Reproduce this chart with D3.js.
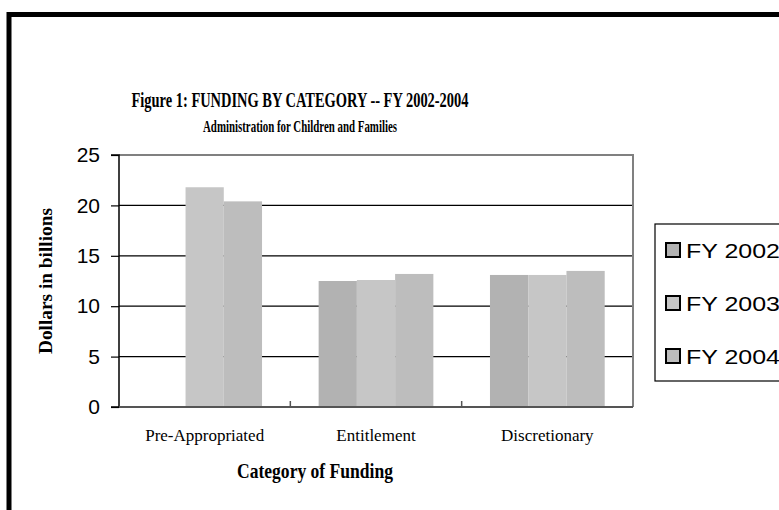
<!DOCTYPE html>
<html><head><meta charset="utf-8">
<script src="https://cdn.jsdelivr.net/npm/d3@7"></script>
<style>body{margin:0;background:#fff}svg{display:block}</style>
</head><body>
<script>
const categories = ["Pre-Appropriated", "Entitlement", "Discretionary"];
const seriesNames = ["FY 2002", "FY 2003", "FY 2004"];
const fy2002 = [0, 12.5, 13.1];
const fy2003 = [21.8, 12.6, 13.1];
const fy2004 = [20.4, 13.2, 13.5];
const yTicks = [0, 5, 10, 15, 20, 25];
const seriesColors = ["#b2b2b2", "#c6c6c6", "#bdbdbd"];
const seriesValues = [fy2002, fy2003, fy2004];

const W = 779, H = 510;
const svg = d3.select("body").append("svg").attr("width", W).attr("height", H);
const serif = "'Times New Roman', 'Liberation Serif', serif";
const sans = "Arial, 'Liberation Sans', sans-serif";

// outer frame
svg.append("rect").attr("x", 9).attr("y", 14.5).attr("width", W + 20).attr("height", H + 20)
  .attr("fill", "#fff").attr("stroke", "#000").attr("stroke-width", 5);

const plot = {left: 119, right: 633, top: 155, bottom: 407};
const x0 = d3.scaleBand().domain(categories).range([plot.left, plot.right]).paddingInner(0).paddingOuter(0);
const x1 = d3.scaleBand().domain(seriesNames).range([0, x0.bandwidth()]).paddingInner(0).paddingOuter(0.74);
const y = d3.scaleLinear().domain([0, 25]).range([plot.bottom, plot.top]);

// gridlines
svg.append("g").selectAll("line").data(yTicks.filter(d => d > 0 && d < 25)).join("line")
  .attr("x1", plot.left).attr("x2", plot.right).attr("y1", d => y(d)).attr("y2", d => y(d))
  .attr("stroke", "#000").attr("stroke-width", 1.2);

// bars
const groups = svg.append("g").selectAll("g").data(categories).join("g")
  .attr("transform", d => `translate(${x0(d)},0)`);
groups.selectAll("rect").data((c, i) => seriesNames.map((s, j) => ({s, j, v: seriesValues[j][i]}))).join("rect")
  .attr("x", d => x1(d.s)).attr("width", x1.bandwidth())
  .attr("y", d => y(d.v)).attr("height", d => y(0) - y(d.v))
  .attr("fill", d => seriesColors[d.j]);

// plot border top/right
svg.append("path").attr("d", `M${plot.left},${plot.top}H${plot.right}V${plot.bottom}`)
  .attr("fill", "none").attr("stroke", "#808080").attr("stroke-width", 2);

// y axis
const yAxis = d3.axisLeft(y).tickValues(yTicks).tickSize(8).tickPadding(11).tickFormat(d3.format("d"));
const gy = svg.append("g").attr("transform", `translate(${plot.left},0)`).call(yAxis);
gy.select(".domain").attr("stroke", "#000").attr("stroke-width", 1.5).attr("d", `M-8,${plot.top}H0V${plot.bottom}H-8`);
gy.selectAll(".tick line").attr("stroke", "#000").attr("stroke-width", 1.2);
gy.selectAll(".tick text").attr("font-family", sans).attr("font-size", 21).attr("fill", "#000");

// x axis
const xAxis = d3.axisBottom(x0).tickSize(0).tickPadding(22);
const gx = svg.append("g").attr("transform", `translate(0,${plot.bottom})`).call(xAxis);
gx.select(".domain").attr("stroke", "#555").attr("stroke-width", 2).attr("d", `M${plot.left},0H${plot.right}`);
gx.selectAll(".tick text").attr("font-family", serif).attr("font-size", 17).attr("fill", "#000");
// category separators
svg.append("g").selectAll("line").data(categories.slice(1)).join("line")
  .attr("x1", d => x0(d)).attr("x2", d => x0(d)).attr("y1", plot.bottom - 6).attr("y2", plot.bottom)
  .attr("stroke", "#555").attr("stroke-width", 1.5);

// titles
svg.append("text").attr("x", 300).attr("y", 107).attr("text-anchor", "middle")
  .attr("font-family", serif).attr("font-weight", "bold").attr("font-size", 21)
  .attr("textLength", 337).attr("lengthAdjust", "spacingAndGlyphs")
  .text("Figure 1: FUNDING BY CATEGORY -- FY 2002-2004");
svg.append("text").attr("x", 300).attr("y", 132).attr("text-anchor", "middle")
  .attr("font-family", serif).attr("font-weight", "bold").attr("font-size", 17)
  .attr("textLength", 194).attr("lengthAdjust", "spacingAndGlyphs")
  .text("Administration for Children and Families");
svg.append("text").attr("transform", "translate(52,281) rotate(-90)").attr("text-anchor", "middle")
  .attr("font-family", serif).attr("font-weight", "bold").attr("font-size", 18)
  .attr("textLength", 146).attr("lengthAdjust", "spacingAndGlyphs")
  .text("Dollars in billions");
svg.append("text").attr("x", 315).attr("y", 478).attr("text-anchor", "middle")
  .attr("font-family", serif).attr("font-weight", "bold").attr("font-size", 22)
  .attr("textLength", 156).attr("lengthAdjust", "spacingAndGlyphs")
  .text("Category of Funding");

// legend
const lg = svg.append("g");
lg.append("rect").attr("x", 655).attr("y", 224).attr("width", 150).attr("height", 157)
  .attr("fill", "#fff").attr("stroke", "#000").attr("stroke-width", 1.2);
const items = lg.selectAll("g.item").data(seriesNames).join("g").attr("class", "item")
  .attr("transform", (d, i) => `translate(666,${250 + i * 53})`);
items.append("rect").attr("x", 0).attr("y", -7).attr("width", 14).attr("height", 14)
  .attr("fill", (d, i) => seriesColors[i]).attr("stroke", "#000").attr("stroke-width", 2);
items.append("text").attr("x", 20).attr("y", 7.5).attr("font-family", sans)
  .attr("font-size", 21).attr("textLength", 94).attr("lengthAdjust", "spacingAndGlyphs").text(d => d);
</script>
</body></html>
